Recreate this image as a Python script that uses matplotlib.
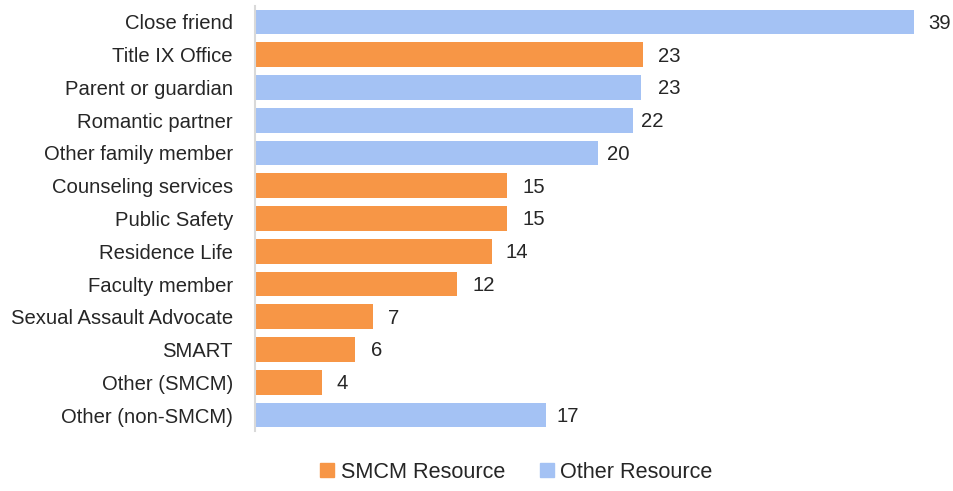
import matplotlib
matplotlib.use("Agg")
import matplotlib.pyplot as plt
from matplotlib.patches import Patch

categories = ["Close friend", "Title IX Office", "Parent or guardian", "Romantic partner",
              "Other family member", "Counseling services", "Public Safety", "Residence Life",
              "Faculty member", "Sexual Assault Advocate", "SMART", "Other (SMCM)", "Other (non-SMCM)"]
# bar lengths (underlying unrounded values)
values = [39.0, 22.98, 22.84, 22.38, 20.28, 14.93, 14.93, 14.0, 11.93, 6.97, 5.92, 3.98, 17.22]
# data labels as printed
labels = [39, 23, 23, 22, 20, 15, 15, 14, 12, 7, 6, 4, 17]
groups = ["Other", "SMCM", "Other", "Other", "Other", "SMCM", "SMCM", "SMCM", "SMCM",
          "SMCM", "SMCM", "SMCM", "Other"]
legend_labels = ["SMCM Resource", "Other Resource"]

plt.rcParams['font.family'] = ['Liberation Sans', 'DejaVu Sans']
colors = {"SMCM": "#F79646", "Other": "#A4C2F4"}
text_color = '#262626'
fs = 14.6

fig = plt.figure(figsize=(9.54, 4.91), dpi=100)
W, H = 954, 491
left, right, top, bottom = 255, 948, 5.6, 431.4
ax = fig.add_axes([left / W, 1 - bottom / H, (right - left) / W, (bottom - top) / H])

y = list(range(len(categories)))
ax.barh(y, values, height=0.76, color=[colors[g] for g in groups])
for yi, lab in zip(y, labels):
    ax.text(lab + 0.85, yi + 0.04, str(lab), va='center', ha='left', fontsize=fs, color=text_color)

ax.set_ylim(len(categories) - 0.5, -0.5)
ax.set_xlim(0, (right - left) / 16.9)
ax.set_yticks(y)
ax.set_yticklabels(categories, fontsize=fs, color=text_color)
ax.tick_params(axis='y', length=0, pad=16)
ax.set_xticks([])
for s in ['top', 'right', 'bottom']:
    ax.spines[s].set_visible(False)
ax.spines['left'].set_color('#D9D9D9')
ax.spines['left'].set_linewidth(1.5)

handles = [Patch(color=colors["SMCM"]), Patch(color=colors["Other"])]
fig.legend(handles, legend_labels, loc='center', bbox_to_anchor=(516.5 / W, 1 - 472 / H),
           ncol=2, frameon=False, fontsize=15.6, handlelength=0.65, handleheight=0.65,
           handletextpad=0.3, columnspacing=1.6, labelcolor=text_color)

fig.savefig("out.png", dpi=100)
